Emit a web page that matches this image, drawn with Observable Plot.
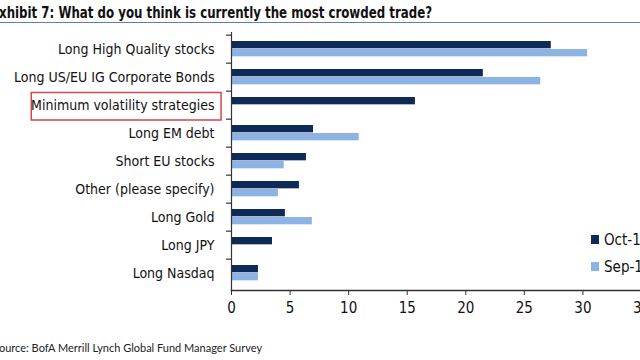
<!DOCTYPE html>
<html>
<head>
<meta charset="utf-8">
<script src="https://cdn.jsdelivr.net/npm/d3@7"></script>
<script src="https://cdn.jsdelivr.net/npm/@observablehq/plot@0.6"></script>
<style>
  html, body { margin: 0; padding: 0; background: #fff; overflow: hidden; width: 640px; height: 360px; }
  #wrap { position: relative; width: 640px; height: 360px; overflow: hidden; }
  #title { position: absolute; left: -9px; top: 3px; font-family: "Liberation Sans Narrow", "DejaVu Sans Condensed", sans-serif; font-weight: bold; font-size: 16px; color: #111; white-space: nowrap; transform-origin: 0 0; }
  #rule { position: absolute; left: 0; top: 22px; width: 640px; height: 0; border-top: 1.5px solid #5d7fa9; }
  #chart { position: absolute; left: 0; top: 0; }
  #chart svg { max-width: none !important; }
  #source { position: absolute; left: -7px; top: 341px; font-family: Lato, "Open Sans", sans-serif; font-size: 11px; color: #222; white-space: nowrap; }
  #legend { position: absolute; left: 591px; top: 226px; font-family: "Liberation Sans Narrow", "DejaVu Sans Condensed", sans-serif; font-size: 15px; color: #111; }
  #legend div { height: 27px; display: flex; align-items: center; white-space: nowrap; }
  #legend span.sw { display: inline-block; width: 8px; height: 9px; margin-right: 5px; }
</style>
</head>
<body>
<div id="wrap">
  <div id="title"></div>
  <div id="rule"></div>
  <div id="chart"></div>
  <div id="legend"></div>
  <div id="source"></div>
</div>
<script>
const titleText = "Exhibit 7: What do you think is currently the most crowded trade?";
const sourceText = "Source: BofA Merrill Lynch Global Fund Manager Survey";
const categories = [
  "Long High Quality stocks",
  "Long US/EU IG Corporate Bonds",
  "Minimum volatility strategies",
  "Long EM debt",
  "Short EU stocks",
  "Other (please specify)",
  "Long Gold",
  "Long JPY",
  "Long Nasdaq"
];
const seriesNames = ["Oct-16", "Sep-16"];
const oct16 = [27.3, 21.5, 15.7, 7.0, 6.4, 5.8, 4.6, 3.5, 2.3];
const sep16 = [30.4, 26.4, 0, 10.9, 4.5, 4.0, 6.9, 0, 2.3];
const seriesColors = ["#0e2a56", "#8cb3e3"];
const xTicks = [0, 5, 10, 15, 20, 25, 30, 35];
const highlighted = "Minimum volatility strategies";

const rows = [];
categories.forEach((c, i) => {
  rows.push({category: c, series: seriesNames[0], value: oct16[i]});
  rows.push({category: c, series: seriesNames[1], value: sep16[i]});
});

const marginLeft = 231, width = 660, marginRight = 19;
const marginTop = 32, height = 360, marginBottom = 70;
const band = (height - marginTop - marginBottom) / categories.length;
const pxPerUnit = (width - marginRight - marginLeft) / 35;
const tickUnits = 5 / pxPerUnit;

const labelFont = "\"Liberation Sans Narrow\", \"DejaVu Sans Condensed\", sans-serif";

const chart = Plot.plot({
  width, height, marginLeft, marginRight, marginTop, marginBottom,
  style: {fontFamily: labelFont, fontSize: "14px", color: "#111", background: "transparent", maxWidth: "none"},
  x: {domain: [0, 35], ticks: xTicks},
  y: {domain: categories, padding: 0},
  color: {domain: seriesNames, range: seriesColors},
  marks: [
    Plot.barX(rows.filter(d => d.series === seriesNames[0]), {
      y: "category", x: "value", fill: "series", insetTop: 6, insetBottom: band - 14
    }),
    Plot.barX(rows.filter(d => d.series === seriesNames[1]), {
      y: "category", x: "value", fill: "series", insetTop: 14, insetBottom: band - 22
    }),
    Plot.barX([highlighted], {
      y: d => d, x1: -17.05, x2: -0.85, fill: "none", stroke: "#d0474c", strokeWidth: 1.5,
      insetTop: 1.5, insetBottom: -1
    }),
    Plot.ruleY(categories, {y: d => d, x1: -tickUnits, x2: 0, dy: -band / 2, stroke: "#333", strokeWidth: 1.2}),
    Plot.frame({anchor: "left", stroke: "#333", strokeWidth: 1.2}),
    Plot.frame({anchor: "bottom", stroke: "#333", strokeWidth: 1.5}),
    Plot.axisY({tickSize: 0, tickPadding: 17, fontSize: 14, label: null}),
    Plot.axisX({ticks: xTicks, tickSize: 5, tickPadding: 7, fontSize: 15, label: null, stroke: "#333"})
  ]
});
document.getElementById("chart").appendChild(chart);

const t = document.getElementById("title");
t.textContent = titleText;
const targetW = 441;
const w = t.getBoundingClientRect().width;
t.style.transform = `scaleX(${targetW / w})`;

document.getElementById("source").textContent = sourceText;

const lg = document.getElementById("legend");
seriesNames.forEach((s, i) => {
  const row = document.createElement("div");
  const sw = document.createElement("span");
  sw.className = "sw";
  sw.style.background = seriesColors[i];
  row.appendChild(sw);
  row.appendChild(document.createTextNode(s));
  lg.appendChild(row);
});
</script>
</body>
</html>
